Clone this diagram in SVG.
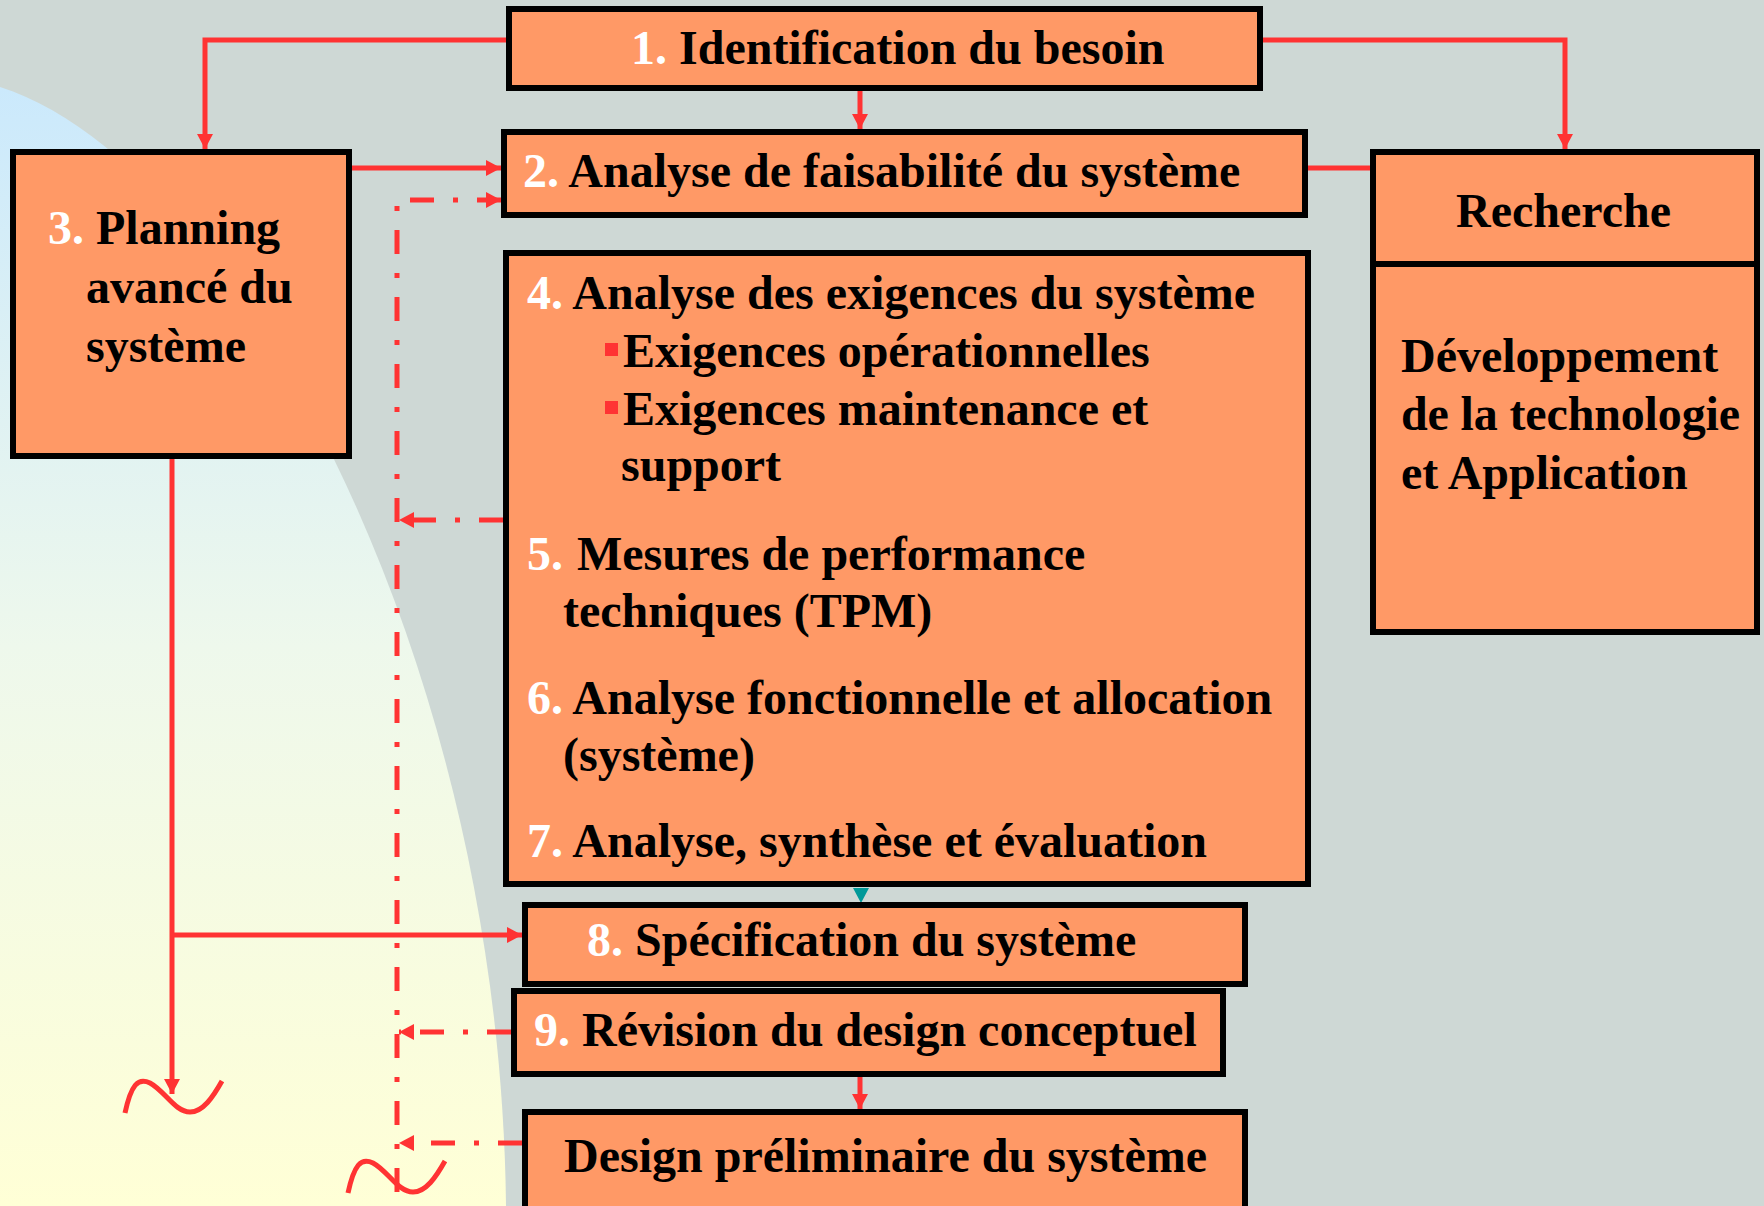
<svg xmlns="http://www.w3.org/2000/svg" width="1764" height="1206" viewBox="0 0 1764 1206">
<style>
  .box { fill: #FF9966; stroke: #000; stroke-width: 6; }
  .t { font-family: "Liberation Serif", "Times New Roman", serif; font-weight: bold; font-size: 48px; fill: #000; }
  .n { fill: #FFFFFF; }
  .line { fill: none; stroke: #FF3333; stroke-width: 5; }
  .dd { fill: none; stroke: #FF3333; stroke-width: 5; stroke-dasharray: 24 19 5 19; }
  .wig { fill: none; stroke: #FF3333; stroke-width: 5; stroke-linecap: butt; }
</style>
<defs>
  <linearGradient id="bg" gradientUnits="userSpaceOnUse" x1="0" y1="87" x2="0" y2="1206">
    <stop offset="0" stop-color="#CBE9FC"/>
    <stop offset="0.5" stop-color="#EEF8EC"/>
    <stop offset="1" stop-color="#FFFFD6"/>
  </linearGradient>
  <marker id="ah" markerUnits="userSpaceOnUse" markerWidth="16" markerHeight="16" viewBox="0 0 15 16" refX="15" refY="8" orient="auto">
    <path d="M0,0 L15,8 L0,16 Z" fill="#FF3333"/>
  </marker>
  <path id="wiggle" d="M125,1113 C131,1085 138,1077 150,1083 C165,1091 175,1112 190,1112 C203,1112 213,1097 222,1081"/>
</defs>

<rect x="0" y="0" width="1764" height="1206" fill="#CED8D5"/>
<path d="M0,87 C230,160 500,650 506,1206 L0,1206 Z" fill="url(#bg)"/>

<g id="connectors">
  <polyline class="line" points="506,40 205,40 205,149" marker-end="url(#ah)"/>
  <polyline class="line" points="1263,40 1565,40 1565,149" marker-end="url(#ah)"/>
  <line class="line" x1="860" y1="91" x2="860" y2="129" marker-end="url(#ah)"/>
  <line class="line" x1="352" y1="168" x2="501" y2="168" marker-end="url(#ah)"/>
  <line class="line" x1="1308" y1="168" x2="1370" y2="168"/>
  <polyline class="dd" points="397,1192 397,200 501,200" marker-end="url(#ah)"/>
  <line class="dd" x1="503" y1="520" x2="399" y2="520" marker-end="url(#ah)"/>
  <line class="dd" x1="511" y1="1032" x2="399" y2="1032" marker-end="url(#ah)"/>
  <line class="dd" x1="522" y1="1143" x2="399" y2="1143" marker-end="url(#ah)"/>
  <line class="line" x1="172" y1="459" x2="172" y2="1094" marker-end="url(#ah)"/>
  <line class="line" x1="172" y1="935" x2="522" y2="935" marker-end="url(#ah)"/>
  <path d="M853,888 L869,888 L861,903 Z" fill="#009999"/>
  <line class="line" x1="860" y1="1077" x2="860" y2="1109" marker-end="url(#ah)"/>
  <use href="#wiggle" class="wig"/>
  <use href="#wiggle" class="wig" transform="translate(223,80)"/>
</g>

<g id="node1">
  <rect class="box" x="509" y="9" width="751" height="79"/>
  <text class="t" x="631" y="64"><tspan class="n">1.</tspan> Identification du besoin</text>
</g>

<g id="node2">
  <rect class="box" x="504" y="132" width="801" height="83"/>
  <text class="t" x="523" y="187"><tspan class="n">2.</tspan> Analyse de faisabilité du système</text>
</g>

<g id="node3">
  <rect class="box" x="13" y="152" width="336" height="304"/>
  <text class="t" x="48" y="244"><tspan class="n">3.</tspan> Planning</text>
  <text class="t" x="86" y="303">avancé du</text>
  <text class="t" x="86" y="362">système</text>
</g>

<g id="node4">
  <rect class="box" x="506" y="253" width="802" height="631"/>
  <text class="t" x="527" y="309"><tspan class="n">4.</tspan> Analyse des exigences du système</text>
  <rect x="605" y="343" width="13" height="13" fill="#FF3333"/>
  <text class="t" x="623" y="367">Exigences opérationnelles</text>
  <rect x="605" y="401" width="13" height="13" fill="#FF3333"/>
  <text class="t" x="623" y="425">Exigences maintenance et</text>
  <text class="t" x="621" y="481">support</text>
  <text class="t" x="527" y="570"><tspan class="n">5.</tspan><tspan dx="2"> Mesures de performance</tspan></text>
  <text class="t" x="563" y="627">techniques (TPM)</text>
  <text class="t" x="527" y="714"><tspan class="n">6.</tspan> Analyse fonctionnelle et allocation</text>
  <text class="t" x="563" y="771">(système)</text>
  <text class="t" x="527" y="857"><tspan class="n">7.</tspan> Analyse, synthèse et évaluation</text>
</g>

<g id="recherche">
  <rect class="box" x="1373" y="152" width="384" height="480"/>
  <line x1="1373" y1="264" x2="1757" y2="264" stroke="#000" stroke-width="6"/>
  <text class="t" x="1456" y="227">Recherche</text>
  <text class="t" x="1401" y="372">Développement</text>
  <text class="t" x="1401" y="430" textLength="339" lengthAdjust="spacing">de la technologie</text>
  <text class="t" x="1401" y="489">et Application</text>
</g>

<g id="node8">
  <rect class="box" x="525" y="905" width="720" height="79"/>
  <text class="t" x="587" y="956"><tspan class="n">8.</tspan> Spécification du système</text>
</g>

<g id="node9">
  <rect class="box" x="514" y="991" width="709" height="83"/>
  <text class="t" x="534" y="1046"><tspan class="n">9.</tspan> Révision du design conceptuel</text>
</g>

<g id="design">
  <rect class="box" x="525" y="1112" width="720" height="120"/>
  <text class="t" x="564" y="1172">Design préliminaire du système</text>
</g>
</svg>
